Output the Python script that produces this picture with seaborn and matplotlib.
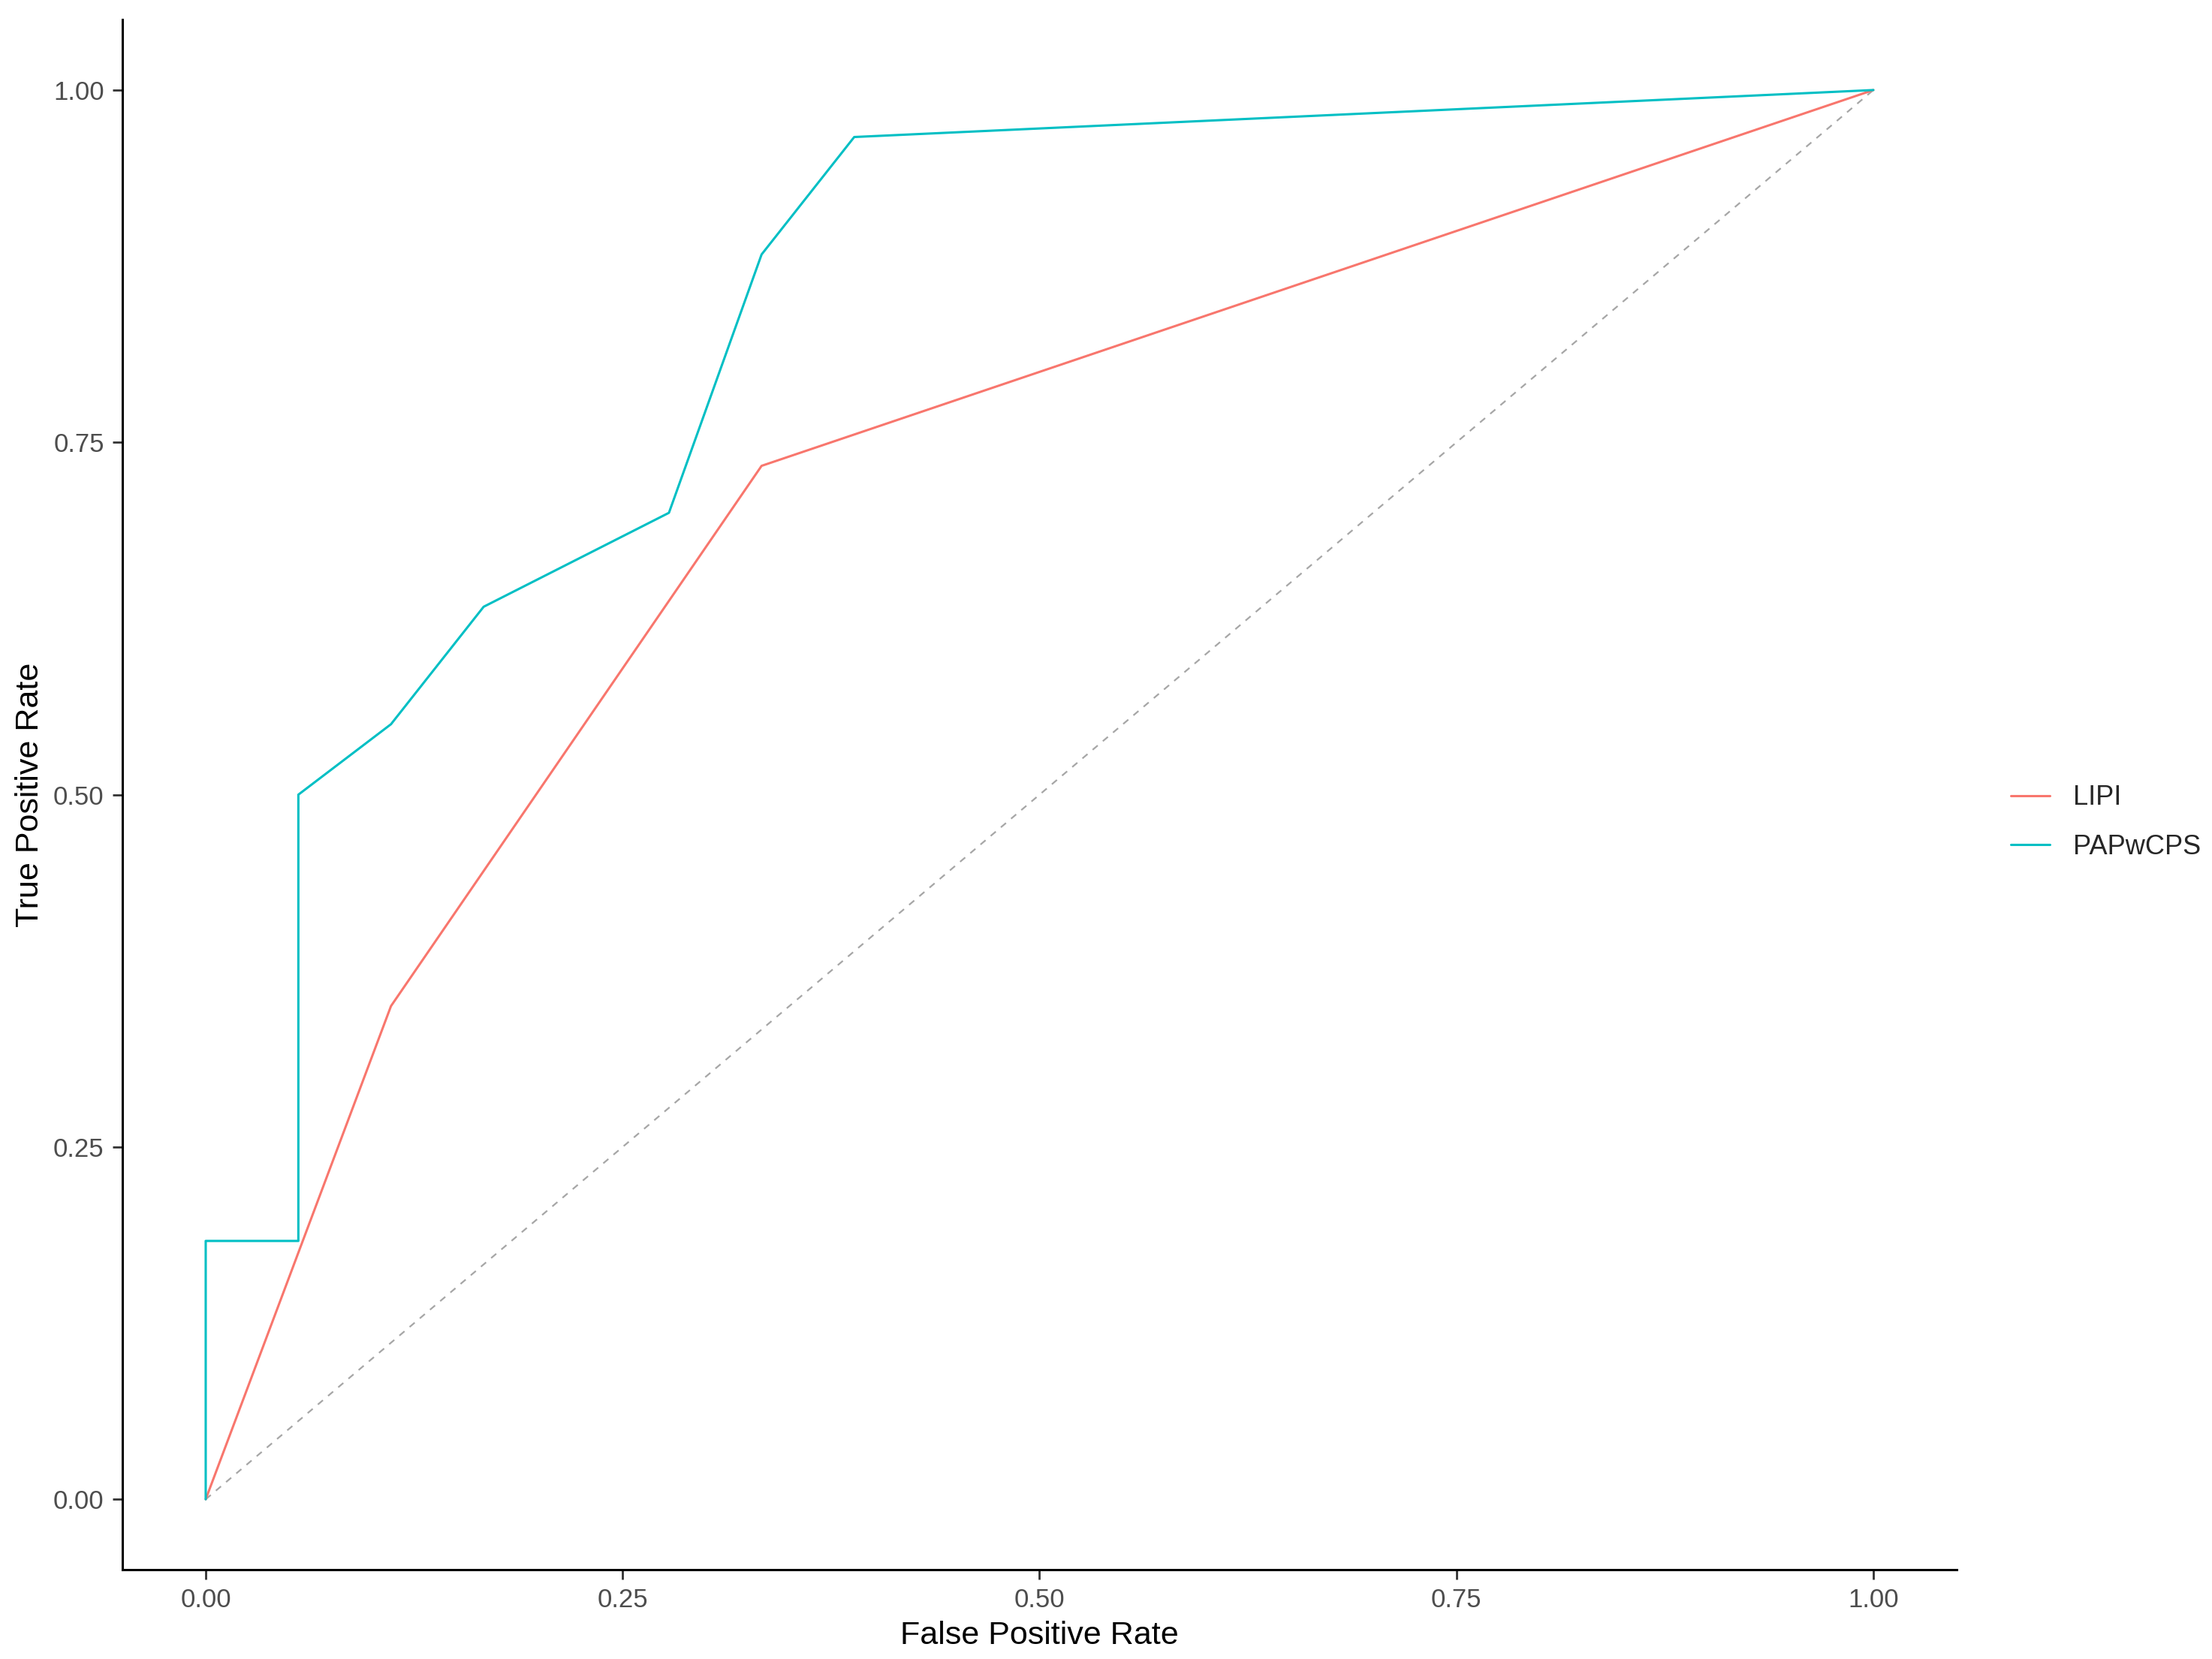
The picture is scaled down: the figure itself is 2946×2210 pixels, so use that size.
import matplotlib
matplotlib.use('Agg')
import matplotlib.pyplot as plt
import seaborn as sns
import pandas as pd

# ROC points
lipi_fpr = [0.0, 2/18, 6/18, 1.0]
lipi_tpr = [0.0, 21/60, 44/60, 1.0]

pap_fpr = [0.0, 0.0, 1/18, 1/18, 2/18, 3/18, 5/18, 6/18, 7/18, 1.0]
pap_tpr = [0.0, 11/60, 11/60, 30/60, 33/60, 38/60, 42/60, 53/60, 58/60, 1.0]

model_names = ['LIPI', 'PAPwCPS']
model_colors = ['#F8766D', '#00BFC4']
ticks = [0.0, 0.25, 0.5, 0.75, 1.0]
tick_labels = ['0.00', '0.25', '0.50', '0.75', '1.00']

df = pd.concat([
    pd.DataFrame({'fpr': lipi_fpr, 'tpr': lipi_tpr, 'model': 'LIPI'}),
    pd.DataFrame({'fpr': pap_fpr, 'tpr': pap_tpr, 'model': 'PAPwCPS'}),
], ignore_index=True)

sns.set_style('white')
plt.rcParams['font.family'] = ['Liberation Sans', 'DejaVu Sans']

fig = plt.figure(figsize=(14.73, 11.05), dpi=200)
ax = fig.add_axes([0.0553, 0.0538, 0.8293, 0.9344])

# chance line
ax.plot([0, 1], [0, 1], linestyle=(0, (4, 4)), color='#A6A6A6', linewidth=0.8)

sns.lineplot(data=df, x='fpr', y='tpr', hue='model', hue_order=model_names,
             palette=model_colors, sort=False, estimator=None,
             linewidth=1.1, ax=ax)

ax.set_xlim(-0.05, 1.05)
ax.set_ylim(-0.05, 1.05)
ax.set_xticks(ticks)
ax.set_xticklabels(tick_labels)
ax.set_yticks(ticks)
ax.set_yticklabels(tick_labels)
ax.tick_params(axis='both', which='both', length=4.7, width=1.0, color='#333333',
               labelcolor='#4D4D4D', labelsize=12.5, pad=4, bottom=True, left=True)

for side in ['top', 'right']:
    ax.spines[side].set_visible(False)
for side in ['left', 'bottom']:
    ax.spines[side].set_color('black')
    ax.spines[side].set_linewidth(1.1)

ax.set_xlabel('False Positive Rate', fontsize=15.5, color='black', labelpad=4)
ax.set_ylabel('True Positive Rate', fontsize=15.5, color='black', labelpad=4)

handles, labels = ax.get_legend_handles_labels()
ax.legend(handles, labels, loc='center left', bbox_to_anchor=(1.016, 0.482),
          frameon=False, fontsize=13, handlelength=1.45, handletextpad=0.85,
          labelspacing=0.85, title=None)

fig.savefig('out.png', dpi=200)
